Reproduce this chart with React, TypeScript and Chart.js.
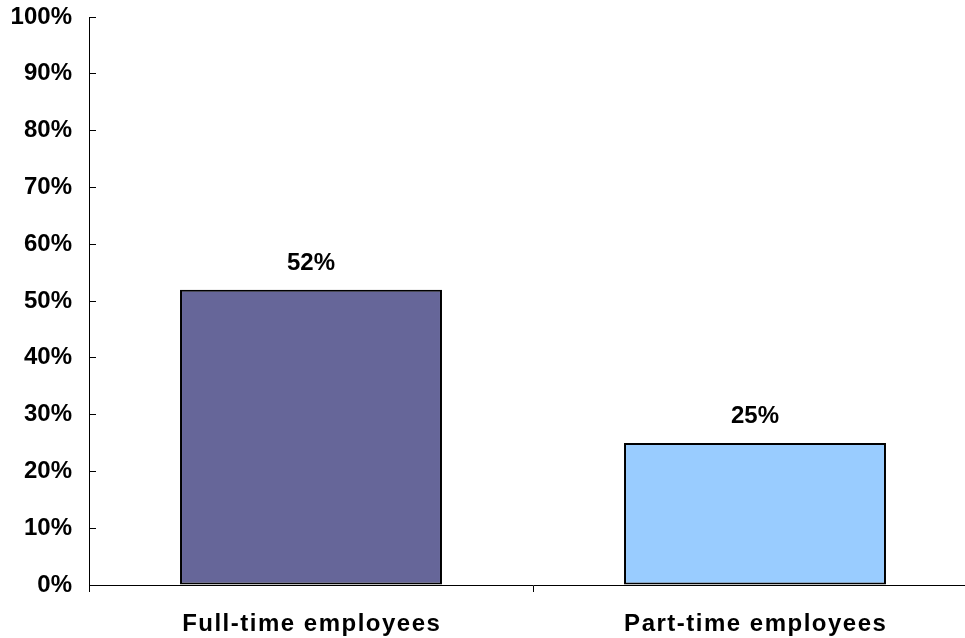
import React, { useEffect, useRef } from "react";
import { Chart, registerables } from "chart.js";

Chart.register(...registerables);

const categories = ["Full-time employees", "Part-time employees"];
const shareValues = [52, 25];
const barColors = ["#666699", "#99CCFF"];
const yTickValues = [0, 10, 20, 30, 40, 50, 60, 70, 80, 90, 100];

const FONT_FAMILY = '"Liberation Sans", Arial, Helvetica, sans-serif';

// Category captions under the axis, drawn with a little extra tracking.
const categoryLabelPlugin = {
  id: "categoryLabels",
  afterDraw(chart: any) {
    const { ctx, chartArea } = chart;
    const xScale = chart.scales.x;
    ctx.save();
    ctx.font = `bold 24px ${FONT_FAMILY}`;
    (ctx as any).letterSpacing = "1.5px";
    ctx.fillStyle = "#000";
    ctx.textAlign = "center";
    ctx.textBaseline = "alphabetic";
    categories.forEach((label, i) => {
      ctx.fillText(label, xScale.getPixelForValue(i) + 0.75, chartArea.bottom + 46);
    });
    ctx.restore();
  },
};

// Percentage labels above each bar.
const valueLabelPlugin = {
  id: "valueLabels",
  afterDatasetsDraw(chart: any) {
    const { ctx } = chart;
    const meta = chart.getDatasetMeta(0);
    ctx.save();
    ctx.font = `bold 24px ${FONT_FAMILY}`;
    ctx.fillStyle = "#000";
    ctx.textAlign = "center";
    ctx.textBaseline = "alphabetic";
    meta.data.forEach((bar: any, i: number) => {
      ctx.fillText(`${shareValues[i]}%`, bar.x, bar.y - 20);
    });
    ctx.restore();
  },
};

export default function App() {
  const canvasRef = useRef<HTMLCanvasElement | null>(null);

  useEffect(() => {
    if (!canvasRef.current) return;
    const chart = new Chart(canvasRef.current, {
      type: "bar",
      data: {
        labels: categories,
        datasets: [
          {
            data: shareValues,
            backgroundColor: barColors,
            borderColor: "#000",
            borderWidth: 2,
            borderSkipped: false,
            categoryPercentage: 1,
            barPercentage: 0.59,
          },
        ],
      },
      options: {
        responsive: true,
        maintainAspectRatio: false,
        animation: false,
        layout: { padding: { top: 17, right: 3, bottom: 0, left: 0 } },
        plugins: {
          legend: { display: false },
          tooltip: { enabled: false },
        },
        scales: {
          x: {
            offset: true,
            grid: {
              offset: true,
              drawOnChartArea: false,
              drawTicks: true,
              tickLength: 7,
              color: "#000",
            },
            border: { display: true, color: "#000", width: 1 },
            ticks: { display: false },
            afterFit: (scale: any) => {
              scale.height = 53;
              scale.paddingLeft = 0;
              scale.paddingRight = 0;
            },
          },
          y: {
            min: 0,
            max: 100,
            afterBuildTicks: (scale: any) => {
              scale.ticks = yTickValues.map((v) => ({ value: v }));
            },
            grid: {
              drawOnChartArea: false,
              drawTicks: true,
              tickLength: -7,
              color: "#000",
            },
            border: { display: true, color: "#000", width: 1 },
            ticks: {
              padding: 24,
              color: "#000",
              font: { family: FONT_FAMILY, size: 24, weight: "bold" },
              callback: (v: any) => `${v}%`,
            },
            afterFit: (scale: any) => {
              scale.width = 89;
              scale.paddingTop = 0;
              scale.paddingBottom = 0;
            },
          },
        },
      },
      plugins: [valueLabelPlugin, categoryLabelPlugin],
    });
    return () => chart.destroy();
  }, []);

  return (
    <div
      style={{
        position: "fixed",
        left: 0,
        top: 0,
        width: 965,
        height: 638,
        overflow: "hidden",
        background: "#fff",
      }}
    >
      <div style={{ position: "relative", width: 980, height: 638 }}>
        <canvas ref={canvasRef} />
      </div>
    </div>
  );
}
